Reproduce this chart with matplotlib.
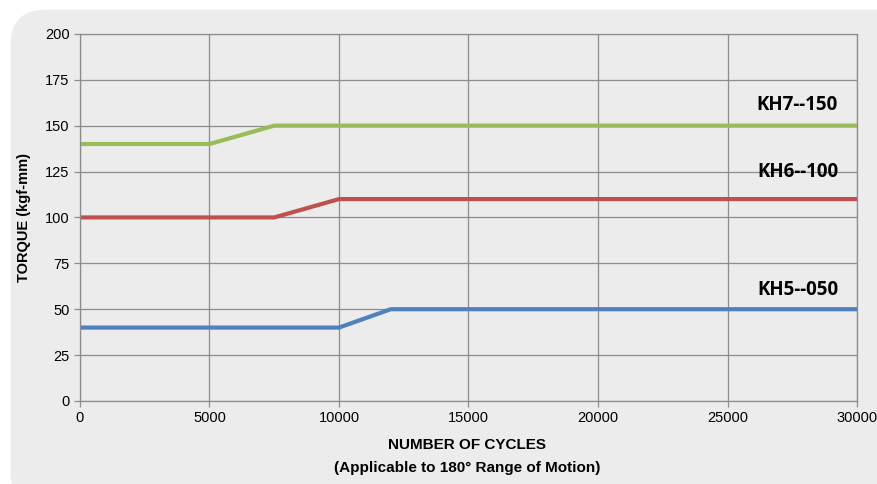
import numpy as np
import matplotlib.pyplot as plt
from matplotlib.patches import FancyBboxPatch

# data
kh7_x = [0, 5000, 7500, 30000]
kh7_y = [140, 140, 150, 150]
kh6_x = [0, 7500, 10000, 30000]
kh6_y = [100, 100, 110, 110]
kh5_x = [0, 10000, 12000, 30000]
kh5_y = [40, 40, 50, 50]
xticks = [0, 5000, 10000, 15000, 20000, 25000, 30000]
yticks = [0, 25, 50, 75, 100, 125, 150, 175, 200]

plt.rcParams['font.family'] = ['Liberation Sans', 'DejaVu Sans']

fig = plt.figure(figsize=(8.77, 4.84), dpi=100)
fig.patch.set_facecolor('white')
panel = FancyBboxPatch((0.012, -0.05), 1.05, 1.03, boxstyle='round,pad=0,rounding_size=0.04',
                       transform=fig.transFigure, facecolor='#ececec', edgecolor='none',
                       mutation_aspect=877 / 484, zorder=-10)
fig.patches.append(panel)

ax = fig.add_axes([0.0912, 0.1715, 0.886, 0.7585])
ax.set_facecolor('#ececec')

ax.plot(kh7_x, kh7_y, color='#9bbb59', lw=3, solid_capstyle='butt')
ax.plot(kh6_x, kh6_y, color='#c0504d', lw=3, solid_capstyle='butt')
ax.plot(kh5_x, kh5_y, color='#4f81bd', lw=3, solid_capstyle='butt')

ax.set_xlim(0, 30000)
ax.set_ylim(0, 200)
ax.set_xticks(xticks)
ax.set_yticks(yticks)
ax.grid(True, color='#8c8c8c', lw=0.9)
ax.set_axisbelow(True)
for s in ax.spines.values():
    s.set_color('#8c8c8c')
    s.set_linewidth(0.9)
ax.tick_params(colors='#8c8c8c', labelcolor='black', labelsize=10.5, length=4, width=0.9)

lab_font = ['Open Sans', 'DejaVu Sans']
ax.text(29270, 161.5, 'KH7--150', ha='right', va='center', fontsize=13.5,
        fontweight='bold', family=lab_font)
ax.text(29270, 124.5, 'KH6--100', ha='right', va='center', fontsize=13.5,
        fontweight='bold', family=lab_font)
ax.text(29270, 60.5, 'KH5--050', ha='right', va='center', fontsize=13.5,
        fontweight='bold', family=lab_font)

ax.set_ylabel('TORQUE (kgf-mm)', fontsize=10.5, fontweight='bold', labelpad=10)
fig.text(0.533, 0.08, 'NUMBER OF CYCLES', ha='center', va='center', fontsize=11, fontweight='bold')
fig.text(0.533, 0.033, '(Applicable to 180° Range of Motion)', ha='center', va='center',
         fontsize=11, fontweight='bold')

plt.savefig('out.png', dpi=100)
